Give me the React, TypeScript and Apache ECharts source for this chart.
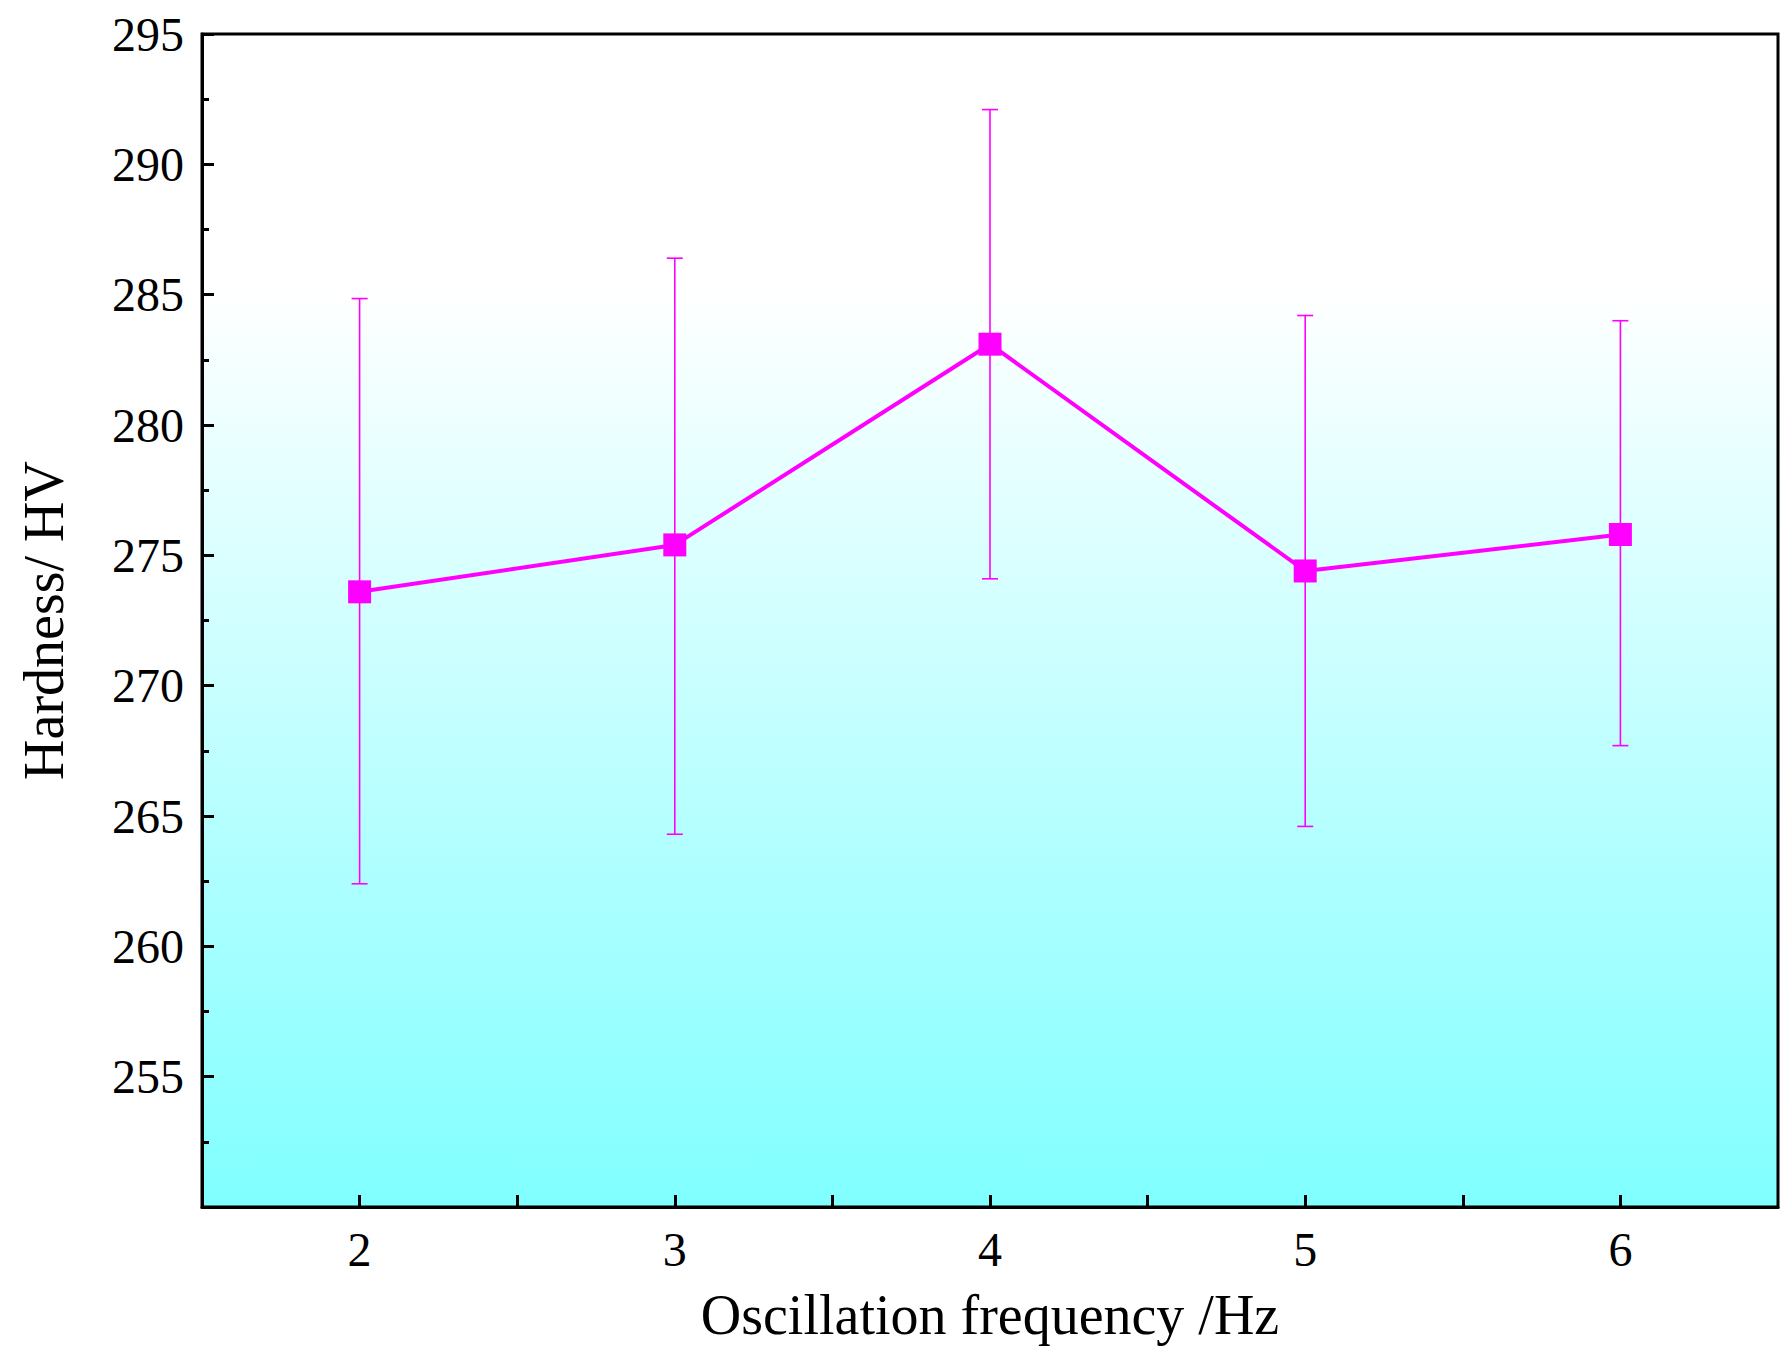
import React, { useEffect, useRef } from "react";
import * as echarts from "echarts";

const freqs = [2, 3, 4, 5, 6];
const hardness = [273.6, 275.4, 283.1, 274.4, 275.8];
const errHigh = [284.85, 286.4, 292.1, 284.2, 284.0];
const errLow = [262.4, 264.3, 274.1, 264.6, 267.7];

const FONT = "Liberation Serif";
const MAG = "#ff00ff";

const App = () => {
  const chartRef = useRef<HTMLDivElement>(null);

  useEffect(() => {
    const chart = echarts.init(chartRef.current, null, { renderer: "svg" });
    const axisCommon = {
      axisLine: { show: true, onZero: false, lineStyle: { color: "#000", width: 3 } },
      axisTick: { show: true, inside: true, length: 12, lineStyle: { color: "#000", width: 3 } },
      splitLine: { show: false },
      axisLabel: { color: "#000", fontFamily: FONT, fontSize: 48, margin: 18 },
      nameTextStyle: { color: "#000", fontFamily: FONT, fontSize: 56 },
    };
    chart.setOption({
      animation: false,
      grid: {
        left: 190,
        right: 4,
        top: 26,
        bottom: 145,
        show: true,
        borderColor: "#000",
        borderWidth: 3,
        backgroundColor: new echarts.graphic.LinearGradient(0, 0, 0, 1, [
          { offset: 0, color: "#ffffff" },
          { offset: 0.22, color: "#ffffff" },
          { offset: 1, color: "#80ffff" },
        ]),
      },
      xAxis: {
        ...axisCommon,
        type: "value",
        min: 1.5,
        max: 6.5,
        interval: 0.5,
        name: "Oscillation frequency /Hz",
        nameLocation: "middle",
        nameGap: 80,
        axisLabel: {
          ...axisCommon.axisLabel,
          formatter: (v: number) => (Number.isInteger(v) ? String(v) : ""),
          showMinLabel: false,
          showMaxLabel: false,
        },
      },
      yAxis: {
        ...axisCommon,
        type: "value",
        min: 250,
        max: 295,
        interval: 5,
        name: "Hardness/ HV",
        nameLocation: "middle",
        nameGap: 130,
        minorTick: { show: true, splitNumber: 2, length: 7, lineStyle: { color: "#000", width: 3 } },
        axisLabel: {
          ...axisCommon.axisLabel,
          formatter: (v: number) => (v === 250 ? "" : String(v)),
        },
      },
      series: [
        {
          type: "custom",
          z: 1,
          data: freqs.map((f, i) => [f, errLow[i], errHigh[i]]),
          renderItem: (_params: any, api: any) => {
            const lo = api.coord([api.value(0), api.value(1)]);
            const hi = api.coord([api.value(0), api.value(2)]);
            const w = 8;
            const style = { stroke: MAG, lineWidth: 1.6 };
            return {
              type: "group",
              children: [
                { type: "line", shape: { x1: lo[0], y1: lo[1], x2: hi[0], y2: hi[1] }, style },
                { type: "line", shape: { x1: lo[0] - w, y1: lo[1], x2: lo[0] + w, y2: lo[1] }, style },
                { type: "line", shape: { x1: hi[0] - w, y1: hi[1], x2: hi[0] + w, y2: hi[1] }, style },
              ],
            };
          },
        },
        {
          type: "line",
          z: 2,
          data: freqs.map((f, i) => [f, hardness[i]]),
          symbol: "rect",
          symbolSize: 23,
          lineStyle: { color: MAG, width: 4 },
          itemStyle: { color: MAG },
        },
      ],
    });
    return () => {
      chart.dispose();
    };
  }, []);

  return <div ref={chartRef} style={{ width: "1774px", height: "1344px" }}></div>;
};

export default App;
